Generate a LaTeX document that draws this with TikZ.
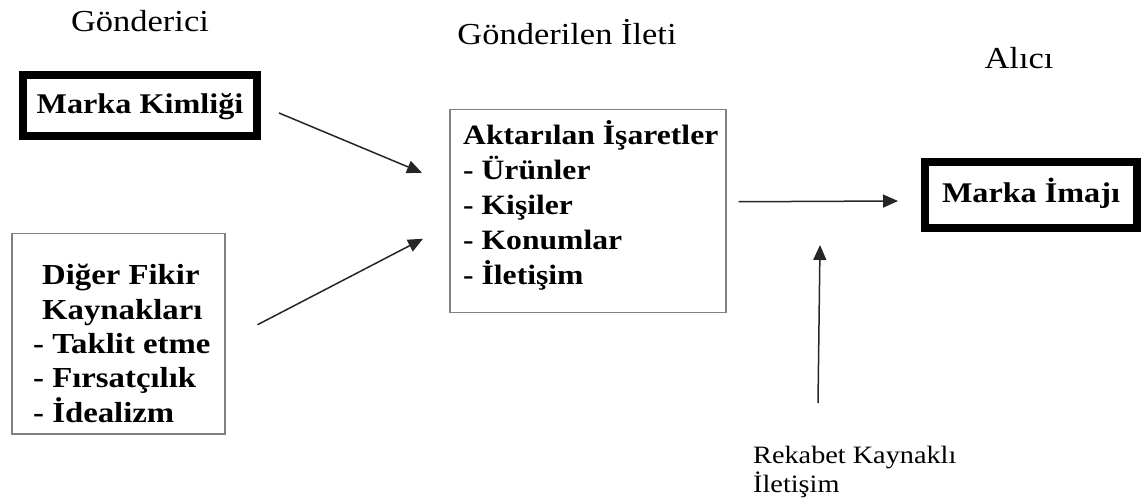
\documentclass[tikz,border=0pt]{standalone}
\usepackage{fontspec}
\setmainfont{Liberation Serif}[FakeStretch=1.13]
\usetikzlibrary{arrows.meta}

\tikzset{
  thickbox/.style={draw=black, line width=8pt, fill=white, inner sep=0pt,
    text height=23pt, text depth=6pt},
  thinbox/.style={draw=black!50, line width=1.5pt, inner sep=0pt, anchor=north west},
  boxtext/.style={anchor=base west, align=left, inner sep=0pt,
    font=\fontsize{29}{34.3}\selectfont\bfseries},
  heading/.style={anchor=base, inner sep=0pt, font=\fontsize{30.5}{36}\selectfont},
  note/.style={anchor=base west, align=left, inner sep=0pt,
    font=\fontsize{25}{29}\selectfont},
  flow/.style={draw=black!85, line width=1.5pt,
    -{Triangle[length=15pt,width=13pt]}},
}

\begin{document}
\begin{tikzpicture}[x=1pt, y=-1pt]
  \useasboundingbox (0,0) rectangle (1142,502);

  % column headings
  \node[heading] (sender)   at (140,32)  {Gönderici};
  \node[heading] (message)  at (567,45)  {Gönderilen İleti};
  \node[heading] (receiver) at (1019,69) {Alıcı};

  % sender side
  \node[thickbox, minimum width=234pt, minimum height=61pt]
    (kimlik) at (140,105.5) {\fontsize{28.5}{34}\selectfont\bfseries Marka Kimliği};

  \node[thinbox, minimum width=213pt, minimum height=200pt] (other) at (11,233) {};
  % multi-line text nodes: the base anchor sits on the last line
  \node[boxtext] (othertext) at (33,422)
    {\hspace*{9pt}Diğer Fikir\\\hspace*{9pt}Kaynakları\\- Taklit etme\\- Fırsatçılık\\- İdealizm};

  % transmitted signs
  \node[thinbox, minimum width=276pt, minimum height=203pt] (mid) at (449,109) {};
  \node[boxtext, font=\fontsize{28}{35}\selectfont\bfseries] (midtext) at (463,285)
    {Aktarılan İşaretler\\- Ürünler\\- Kişiler\\- Konumlar\\- İletişim};

  % receiver side
  \node[thickbox, minimum width=212pt, minimum height=66pt, text height=22pt]
    (imaj) at (1031,195) {\fontsize{28.5}{34}\selectfont\bfseries Marka İmajı};

  \node[note] (rekabet) at (753,492) {Rekabet Kaynaklı\\İletişim};

  % arrow end points
  \coordinate (a1s) at ([shift={(18,7.5)}]kimlik.east);
  \coordinate (a1e) at ([shift={(-27,-38.5)}]mid.west);
  \coordinate (a2s) at ([shift={(32,-9)}]other.east);
  \coordinate (a2e) at ([shift={(-26,27.5)}]mid.west);
  \coordinate (a3s) at ([shift={(12,-9.5)}]mid.east);
  \coordinate (a3e) at ([shift={(-23,6)}]imaj.west);
  \coordinate (a4s) at ([shift={(65,-89)}]rekabet.base west);
  \coordinate (a4e) at (820,245);

  \draw[flow] (a1s) -- (a1e);
  \draw[flow] (a2s) -- (a2e);
  \draw[flow] (a3s) -- (a3e);
  \draw[flow] (a4s) -- (a4e);
\end{tikzpicture}
\end{document}
